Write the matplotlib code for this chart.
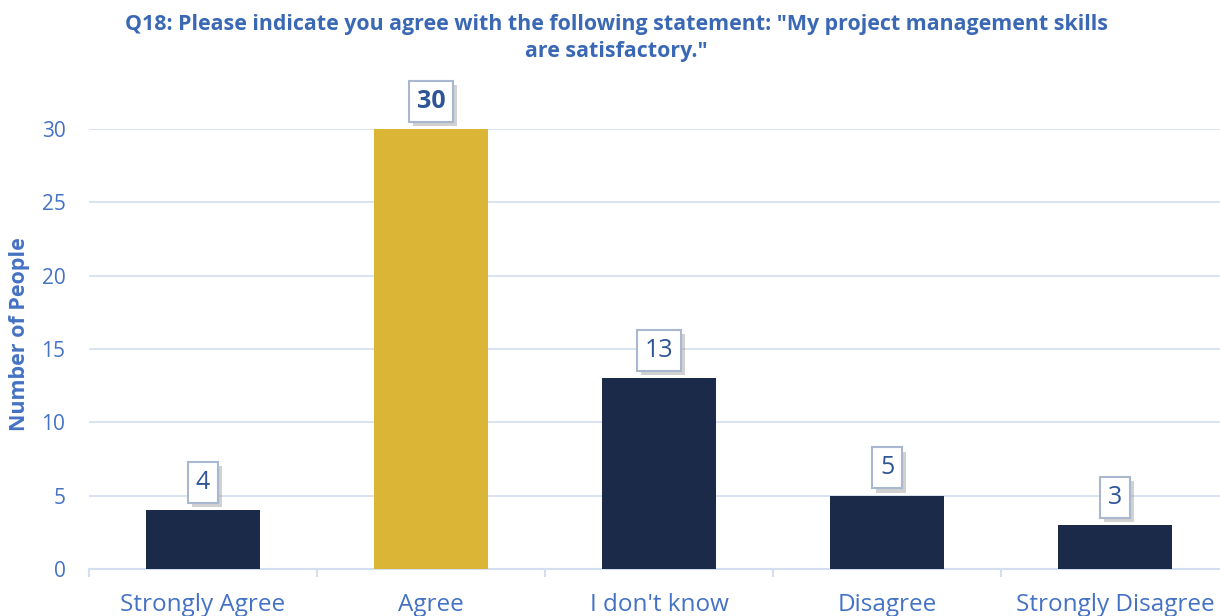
import matplotlib.pyplot as plt
import matplotlib.patheffects as pe

# datos del gráfico
categorias = ["Strongly Agree", "Agree", "I don't know", "Disagree", "Strongly Disagree"]
personas = [4, 30, 13, 5, 3]
colores = ["#1b2a48", "#dbb536", "#1b2a48", "#1b2a48", "#1b2a48"]

azul = "#4472c4"
plt.rcParams['font.family'] = ['Open Sans', 'DejaVu Sans']

fig = plt.figure(figsize=(12.2, 6.16), dpi=100)
ax = fig.add_axes([89 / 1220, 47 / 616, 1140 / 1220, 440 / 616])

x = range(len(categorias))
ax.bar(x, personas, width=0.5, color=colores, zorder=3)
ax.set_xlim(-0.5, len(categorias) - 0.5)
ax.set_ylim(0, 30)
ax.set_yticks(range(0, 31, 5))
ax.set_xticks(x)
ax.set_xticklabels(categorias, fontsize=17.5, color=azul)
ax.tick_params(axis='x', length=0, pad=17)
ax.tick_params(axis='y', length=0, labelsize=15, labelcolor=azul, pad=17)
ax.grid(axis='y', color='#d3deef', lw=1.2, zorder=0)
for s in ['top', 'right', 'left']:
    ax.spines[s].set_visible(False)
ax.spines['bottom'].set_color('#d3deef')
ax.spines['bottom'].set_linewidth(1.5)
# separadores entre categorías
for i in range(len(categorias) + 1):
    ax.plot([i - 0.5, i - 0.5], [0, -0.5], color='#d3deef', lw=1.5, clip_on=False)

ax.set_ylabel('Number of People', fontsize=15.5, fontweight='bold', color=azul)
ax.yaxis.set_label_coords(-59 / 1140, 0.534)

# etiquetas con caja
for i, v in enumerate(personas):
    peso = 'bold' if i == 1 else 'normal'
    t = ax.annotate(str(v), (i, v), xytext=(0, 20), textcoords='offset points',
                    ha='center', va='center', fontsize=18, color='#2f5597', fontweight=peso,
                    bbox=dict(boxstyle='square,pad=0.32', fc='white', ec='#a9b8d0', lw=1.5),
                    annotation_clip=False, zorder=5)
    t.get_bbox_patch().set_path_effects([
        pe.SimplePatchShadow(offset=(3, -3), shadow_rgbFace='#999999', alpha=0.45),
        pe.Normal()])

fig.text(0.505, 0.938, 'Q18: Please indicate you agree with the following statement: "My project management skills\nare satisfactory."',
         ha='center', va='center', fontsize=15.4, fontweight='bold', color='#3a68b5', linespacing=1.35)

plt.savefig('out.png', dpi=100)
